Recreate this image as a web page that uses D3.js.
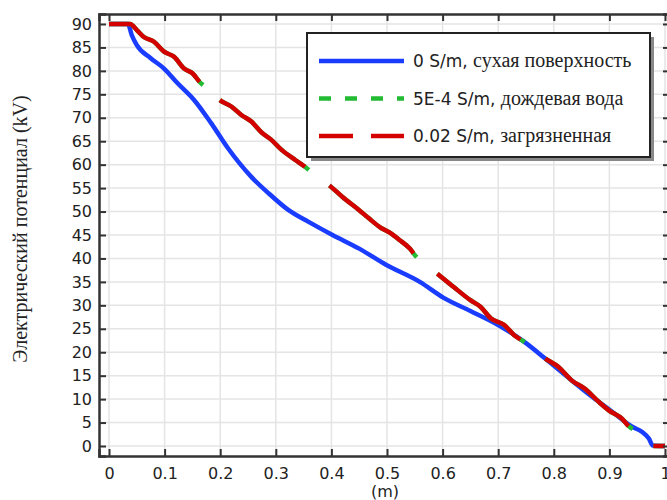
<!DOCTYPE html>
<html>
<head>
<meta charset="utf-8">
<script src="https://cdn.jsdelivr.net/npm/d3@7"></script>
<style>
body{margin:0;background:#fff;}
svg{display:block;}
.tick text{font-family:"DejaVu Sans",sans-serif;font-size:16px;fill:#222;}
</style>
</head>
<body>
<div id="plot"></div>
<script>
// data
var xTicks = [0,0.1,0.2,0.3,0.4,0.5,0.6,0.7,0.8,0.9,1];
var yTicks = [0,5,10,15,20,25,30,35,40,45,50,55,60,65,70,75,80,85,90];

// 0 S/m, dry surface
var dryX = [0,0.034,0.041,0.05,0.075,0.099,0.123,0.153,0.184,0.214,0.256,0.287,0.323,0.359,0.402,0.45,0.499,0.559,0.602,0.65,0.7,0.747,0.784,0.832,0.869,0.905,0.941,0.959,0.971,0.978,1.0];
var dryY = [90,90,87.6,85.5,82.7,80.5,77.4,73.8,68.8,63.5,57.4,53.9,50.3,47.8,45.0,42.1,38.6,35.0,31.6,28.8,25.8,22.2,18.7,14.0,10.5,7.3,4.1,3.0,1.6,0.1,0];

// 5E-4 S/m and 0.02 S/m (nearly the same curve)
var wetX = [0,0.038,0.05,0.062,0.081,0.099,0.117,0.135,0.15,0.165,0.169,0.185,0.199,0.22,0.238,0.256,0.275,0.29,0.311,0.335,0.353,0.359,0.375,0.396,0.42,0.45,0.468,0.487,0.505,0.523,0.541,0.553,0.57,0.59,0.62,0.65,0.668,0.687,0.711,0.729,0.747,0.765,0.784,0.808,0.832,0.856,0.881,0.899,0.923,0.935,0.941,0.959,0.971,0.978,1.0];
var rainY = [90,90,88.7,87.3,86.2,84.1,83.0,80.5,79.5,77.4,77.0,75.3,73.8,72.4,70.6,69.2,66.8,65.5,63.1,61.0,59.5,58.9,57.3,55.6,53.1,50.3,48.5,46.7,45.5,43.9,42.1,40.3,38.7,36.8,33.9,31.1,29.7,27.2,25.8,23.6,22.2,20.4,18.7,16.9,14.0,12.2,9.4,7.6,5.8,4.2,3.7,2.6,1.3,0,0];
var dirtyY = [90,90,88.7,87.3,86.2,84.1,83.0,80.5,79.5,77.4,77.0,75.3,73.8,72.4,70.6,69.2,66.8,65.5,63.1,61.0,59.5,58.9,57.3,55.6,53.1,50.3,48.5,46.7,45.5,43.9,42.1,40.3,38.7,36.8,33.9,31.1,29.7,27.2,25.8,23.6,22.2,20.4,18.7,16.9,14.0,12.2,9.4,7.6,5.8,4.2,3.7,2.6,1.3,0,0];

// where the dashes of the two dashed curves break (x in m)
var dashEnds = [0.169,0.359,0.553,0.747,0.941];
var dashStarts = [0.199,0.396,0.59,0.784,0.978];

var seriesNames = ['0 S/m, ', '5E-4 S/m, ', '0.02 S/m, '];
var seriesRu = ['сухая поверхность', 'дождевая вода', 'загрязненная'];

var W = 667, H = 500;
var margin = {t:14,r:-3,b:44,l:99};
var width = W-margin.l-margin.r,
	height = H-margin.t-margin.b;

var svg = d3.select('#plot')
	.append('svg')
	.attr('width',W)
	.attr('height',H);

var plot = svg.append('g')
	.attr('transform','translate('+margin.l+','+margin.t+')');

var x = d3.scaleLinear().domain([-0.018,1.009]).range([0,width]);
var y = d3.scaleLinear().domain([-2.13,92.13]).range([height,0]);

// grid
plot.selectAll('.vg').data(xTicks).enter().append('line')
	.attr('x1',function(d){return x(d);}).attr('x2',function(d){return x(d);})
	.attr('y1',0).attr('y2',height)
	.style('stroke','#e4e4e4').style('stroke-width',1.5);
plot.selectAll('.hg').data(yTicks).enter().append('line')
	.attr('y1',function(d){return y(d);}).attr('y2',function(d){return y(d);})
	.attr('x1',0).attr('x2',width)
	.style('stroke','#e4e4e4').style('stroke-width',1.5);

// curves
var line = d3.line()
	.x(function(d){return x(d[0]);})
	.y(function(d){return y(d[1]);})
	.curve(d3.curveMonotoneX);

plot.append('path')
	.datum(d3.zip(dryX,dryY))
	.attr('d',line)
	.style('fill','none').style('stroke','#1a3cff').style('stroke-width',4.5);

var rain = plot.append('path')
	.datum(d3.zip(wetX,rainY))
	.attr('d',line)
	.style('fill','none').style('stroke','#22bb33').style('stroke-width',4.5);

var dirty = plot.append('path')
	.datum(d3.zip(wetX,dirtyY))
	.attr('d',line)
	.style('fill','none').style('stroke','#d40000').style('stroke-width',4.5);

// length along a path where it reaches a given x value
function lengthAt(node, xv){
	var lo = 0, hi = node.getTotalLength(), px = x(xv);
	for(var k=0;k<40;k++){
		var mid = (lo+hi)/2;
		if(node.getPointAtLength(mid).x < px) lo = mid; else hi = mid;
	}
	return lo;
}
function dashes(node, shrink){
	var total = node.getTotalLength(), arr = [], pos = 0;
	dashEnds.forEach(function(e,i){
		var le = lengthAt(node,e)-shrink, ls = lengthAt(node,dashStarts[i]);
		arr.push(le-pos, ls-le);
		pos = ls;
	});
	arr.push(total-pos+10, 10);
	return arr.join(',');
}
rain.style('stroke-dasharray',dashes(rain.node(),0));
dirty.style('stroke-dasharray',dashes(dirty.node(),5));

// axes (ticks pointing inward on all four sides)
plot.append('g').attr('class','x axis')
	.attr('transform','translate(0,'+height+')')
	.call(d3.axisBottom(x).tickValues(xTicks).tickSize(-7).tickPadding(12)
		.tickFormat(function(d){return d===0||d===1?d3.format('d')(d):d3.format('.1f')(d);}));
plot.append('g')
	.call(d3.axisTop(x).tickValues(xTicks).tickSize(-7).tickFormat(''));
plot.append('g').attr('class','y axis')
	.call(d3.axisLeft(y).tickValues(yTicks).tickSize(-7).tickPadding(7));
plot.append('g')
	.attr('transform','translate('+width+',0)')
	.call(d3.axisRight(y).tickValues(yTicks).tickSize(-7).tickFormat(''));

plot.selectAll('.domain').style('stroke','#333').style('stroke-width',2.5);
plot.selectAll('.tick line').style('stroke','#333').style('stroke-width',2);

// axis titles
svg.append('text')
	.attr('transform','translate(27,229) rotate(-90)')
	.attr('text-anchor','middle')
	.style('font-family','"Liberation Serif",serif')
	.style('font-size','20px')
	.style('fill','#222')
	.text('Электрический потенциал (kV)');

svg.append('text')
	.attr('x',385).attr('y',497)
	.attr('text-anchor','middle')
	.style('font-family','"DejaVu Sans",sans-serif')
	.style('font-size','16px')
	.style('fill','#222')
	.text('(m)');

// legend
var lg = svg.append('g').attr('transform','translate(307,33)');
lg.append('rect').attr('x',4).attr('y',4).attr('width',343).attr('height',124)
	.style('fill','#888');
lg.append('rect').attr('x',0).attr('y',0).attr('width',343).attr('height',124)
	.style('fill','#fff').style('stroke','#222').style('stroke-width',2);

var legendStyle = [
	{c:'#1a3cff',dash:null},
	{c:'#22bb33',dash:'12,14'},
	{c:'#d40000',dash:'34,18'}
];
seriesNames.forEach(function(n,i){
	var yy = 28+i*37.5;
	lg.append('line')
		.attr('x1',12).attr('x2',97).attr('y1',yy).attr('y2',yy)
		.style('stroke',legendStyle[i].c).style('stroke-width',4.5)
		.style('stroke-dasharray',legendStyle[i].dash);
	var t = lg.append('text').attr('x',106).attr('y',yy+6)
		.style('font-size','17px').style('fill','#222');
	t.append('tspan').style('font-family','"DejaVu Sans",sans-serif').text(n);
	t.append('tspan').style('font-family','"Liberation Serif",serif').style('font-size','20px').text(seriesRu[i]);
});
</script>
</body>
</html>
